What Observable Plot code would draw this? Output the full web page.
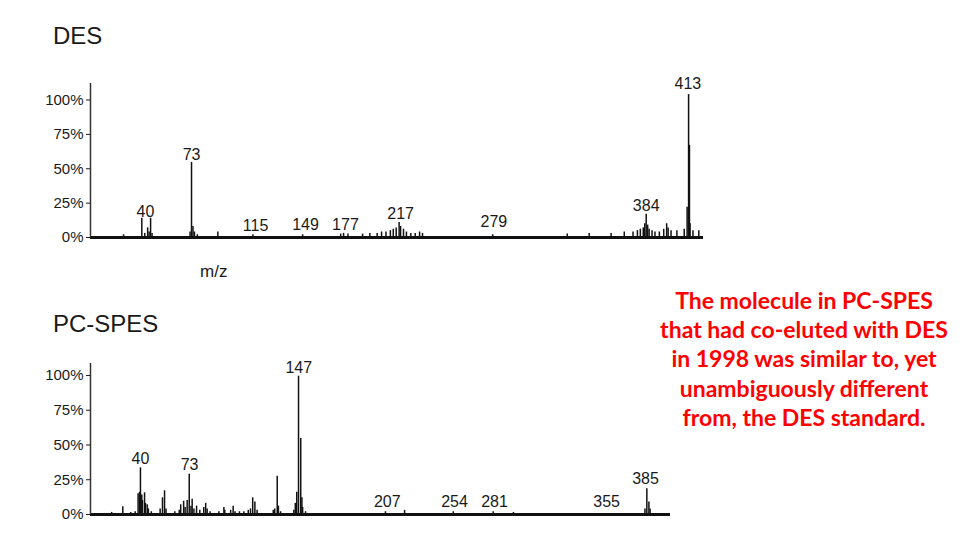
<!DOCTYPE html>
<html><head><meta charset="utf-8">
<script src="https://cdn.jsdelivr.net/npm/d3@7"></script>
<script src="https://cdn.jsdelivr.net/npm/@observablehq/plot@0.6"></script>
<style>
html,body{margin:0;padding:0;background:#fff;}
body{width:973px;height:546px;overflow:hidden;position:relative;font-family:"Liberation Sans",Arial,sans-serif;color:#1a1a1a;}
.abs{position:absolute;white-space:nowrap;line-height:1;}
.title{font-size:24px;}
.mz{font-size:17px;}
.note{position:absolute;left:644px;top:285.7px;width:320px;text-align:center;color:#ff0000;font-family:Lato,"Open Sans",sans-serif;font-weight:bold;font-size:23px;line-height:29.35px;}
svg{position:absolute;left:0;}
</style></head><body>
<div class="abs title" style="left:53px;top:23.7px">DES</div>
<div class="abs mz" style="left:200px;top:262.6px">m/z</div>
<div class="abs title" style="left:53px;top:311.7px">PC-SPES</div>
<div class="note">The molecule in PC-SPES<br>that had co-eluted with DES<br>in 1998 was similar to, yet<br>unambiguously different<br>from, the DES standard.</div>
<div id="top"></div>
<div id="bottom"></div>
<script>
// ---------- DES spectrum (m/z, relative intensity %) ----------
const desMz = [26.5,39,41,43,44,45,46,72,73,74,75,77,91,115,149,175,177,180,190,195,200,203,206,209,211,213,215,216,218,220,223,226,229,231,279,330,345,360,369,375,378,380,382,383,384,385,386,388,390,393,396,398,399,401,405,410,412,413,413.6,414,416,420];
const desInt = [2,14,3,7,4,14,3,4,54.6,8,4,2,4,2,2,2.5,3,2.5,2.5,3,3,4,4,5,6,7,11,8,6,4,3,3,4,3,2,2.5,3,3,4,4,5,6,7,10,17,9,6,5,4,4,6,10,7,5,5,6,22,104,67,10,5,5];
const desLabelText = ["40","73","115","149","177","217","279","384","413"];
const desLabelMz   = [41.5,73,116.8,151,178.3,216,279.8,384,412.5];
const desLabelY    = [15.2,56.3,5,5.6,5.6,13.5,7.5,19.6,107.8];

// ---------- PC-SPES spectrum ----------
const pcMz = [20,27.6,33,36,38,39,39.6,40.5,41,42.4,43,44.2,45,47,53,54.6,56,57,63,66,67,69,70,71.4,72.8,74,74.8,76,77.8,80,82.7,84,85,87,93,96.4,97,101,102.7,104,107,110,113,114.5,116,117.5,119,130,131,132.7,133.5,135,144,145,146,147.2,148.7,149.5,150,152,206.4,219.4,252.5,279.7,293.5,383,384.3,385.7,386.5];
const pcInt = [1.5,5.5,1.5,2,15,16,33.5,14,10,15.6,8,7,4,2,4,12,17,4,2,3,7,9.5,5,10,29,6,11,4,6,3,5,8,4,2,2,5,3,3,6,2,2,2,3,4,12,9,3,3,4,27.5,6,2,3,8,16,99.5,54.6,12,5,2,2,3,2,2,1.5,4,18.5,9,4];
const pcLabelText = ["40","73","147","207","254","281","355","385"];
const pcLabelMz   = [39.6,73,147.4,207.6,253.4,280.6,356.9,383.4];
const pcLabelY    = [36.4,32,102,5.3,5.3,5.3,5.3,22];

const yTicks = [0,25,50,75,100];

function spectrum(mz, inten, labText, labMz, labY, xDom, yDom, w, h, mt, mb, mr) {
  const peaks = mz.map((m, i) => ({mz: m, v: inten[i]}));
  const labels = labText.map((t, i) => ({t, mz: labMz[i], y: labY[i]}));
  return Plot.plot({
    width: w, height: h, marginLeft: 90, marginRight: mr, marginTop: mt, marginBottom: mb,
    style: {fontFamily: '"Liberation Sans", Arial, sans-serif', fontSize: "15px", color: "#1a1a1a", background: "transparent", overflow: "visible"},
    x: {domain: xDom, axis: null},
    y: {domain: yDom},
    marks: [
      Plot.ruleX(peaks, {x: "mz", y1: 0, y2: "v", stroke: "#111", strokeWidth: 1.5}),
      Plot.ruleY([0], {stroke: "#111", strokeWidth: 3}),
      Plot.ruleX([xDom[0]], {stroke: "#333", strokeWidth: 1.5}),
      Plot.axisY({ticks: yTicks, tickFormat: d => d + "%", tickSize: 4, tickPadding: 3, fontSize: 15, label: null}),
      Plot.text(labels, {x: "mz", y: "y", text: "t", lineAnchor: "bottom", fontSize: 16, fill: "#1a1a1a"})
    ]
  });
}

const topSvg = spectrum(desMz, desInt, desLabelText, desLabelMz, desLabelY, [3.9, 423.2], [0, 112], 720, 200, 23, 23, 17);
topSvg.style.top = "60px";
document.getElementById("top").appendChild(topSvg);

const botSvg = spectrum(pcMz, pcInt, pcLabelText, pcLabelMz, pcLabelY, [5.6, 400.4], [0, 108.6], 690, 200, 23, 26, 20);
botSvg.style.top = "340px";
document.getElementById("bottom").appendChild(botSvg);
</script>
</body></html>
